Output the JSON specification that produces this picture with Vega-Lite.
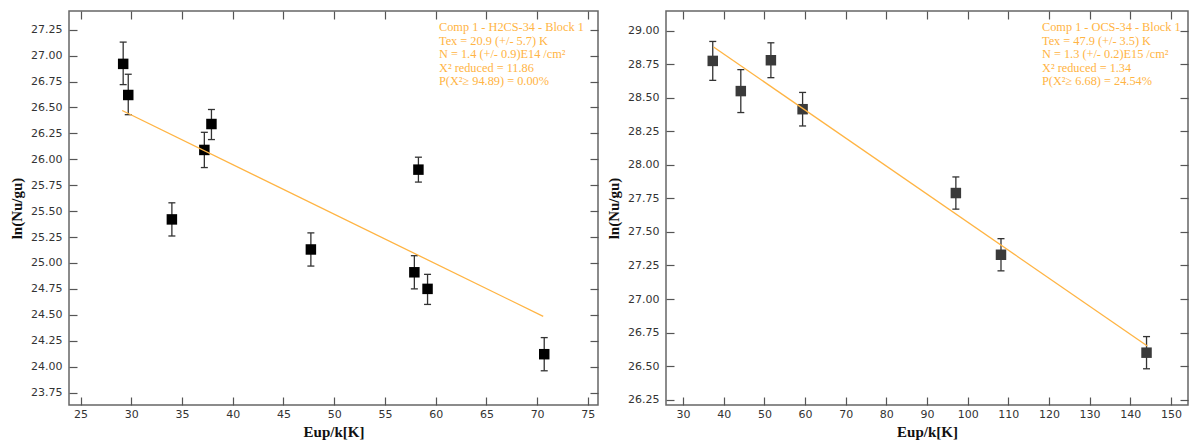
{
  "$schema": "https://vega.github.io/schema/vega-lite/v6.json",
  "background": "white",
  "padding": {"left": 8, "top": 9, "right": 0, "bottom": 0},
  "spacing": 5,
  "config": {
    "view": {"stroke": "#666", "strokeWidth": 1.5},
    "axis": {
      "labelFont": "DejaVu Sans", "labelFontSize": 11, "labelColor": "#333",
      "tickColor": "#555", "tickSize": -8, "tickWidth": 1.2, "domain": false, "grid": false,
      "titleFont": "Liberation Serif", "titleFontSize": 15, "titleFontWeight": "bold", "titleColor": "#111"
    },
    "axisX": {"labelPadding": 11},
    "axisY": {"labelPadding": 15}
  },
  "datasets": {
    "h2cs": [
      {"Eup": 29.2, "ln": 26.92, "lo": 26.72, "hi": 27.13},
      {"Eup": 29.7, "ln": 26.62, "lo": 26.43, "hi": 26.82},
      {"Eup": 34.0, "ln": 25.42, "lo": 25.26, "hi": 25.58},
      {"Eup": 37.2, "ln": 26.09, "lo": 25.92, "hi": 26.26},
      {"Eup": 37.9, "ln": 26.34, "lo": 26.19, "hi": 26.48},
      {"Eup": 47.7, "ln": 25.13, "lo": 24.97, "hi": 25.29},
      {"Eup": 57.9, "ln": 24.91, "lo": 24.75, "hi": 25.07},
      {"Eup": 58.3, "ln": 25.90, "lo": 25.78, "hi": 26.02},
      {"Eup": 59.2, "ln": 24.75, "lo": 24.60, "hi": 24.89},
      {"Eup": 70.7, "ln": 24.12, "lo": 23.96, "hi": 24.28}
    ],
    "fit_h2cs": [
      {"Eup": 29.1, "ln": 26.47},
      {"Eup": 70.6, "ln": 24.485}
    ],
    "ocs": [
      {"Eup": 37.3, "ln": 28.775, "lo": 28.63, "hi": 28.92},
      {"Eup": 44.2, "ln": 28.55, "lo": 28.39, "hi": 28.71},
      {"Eup": 51.6, "ln": 28.78, "lo": 28.65, "hi": 28.91},
      {"Eup": 59.4, "ln": 28.415, "lo": 28.29, "hi": 28.54},
      {"Eup": 97.1, "ln": 27.79, "lo": 27.67, "hi": 27.91},
      {"Eup": 108.2, "ln": 27.33, "lo": 27.21, "hi": 27.45},
      {"Eup": 144.0, "ln": 26.60, "lo": 26.48, "hi": 26.72}
    ],
    "fit_ocs": [
      {"Eup": 37.5, "ln": 28.879},
      {"Eup": 144.2, "ln": 26.65}
    ]
  },
  "hconcat": [
    {
      "width": 529, "height": 394,
      "title": {
        "text": ["Comp 1 - H2CS-34 - Block 1", "Tex =  20.9 (+/- 5.7) K", "N = 1.4 (+/- 0.9)E14 /cm²", "X² reduced = 11.86", "P(X²≥ 94.89) = 0.00%"],
        "frame": "group", "anchor": "start", "align": "left", "dx": 370, "offset": -77,
        "font": "Liberation Serif", "fontSize": 12.3, "fontWeight": "normal", "color": "#FFB443", "lineHeight": 13.5
      },
      "layer": [
        {
          "data": {"name": "h2cs"},
          "mark": {"type": "rule", "color": "#333", "strokeWidth": 1.3},
          "encoding": {
            "x": {"field": "Eup", "type": "quantitative", "scale": {"domain": [23.86, 76.0], "nice": false, "zero": false},
                  "axis": {"orient": "bottom", "values": [25, 30, 35, 40, 45, 50, 55, 60, 65, 70, 75], "format": "d", "title": "Eup/k[K]", "titlePadding": 5}},
            "y": {"field": "lo", "type": "quantitative", "scale": {"domain": [23.63, 27.43], "nice": false, "zero": false},
                  "axis": {"orient": "left", "values": [23.75, 24, 24.25, 24.5, 24.75, 25, 25.25, 25.5, 25.75, 26, 26.25, 26.5, 26.75, 27, 27.25], "format": ".2f", "title": "ln(Nu/gu)", "titlePadding": 6}},
            "y2": {"field": "hi"}
          }
        },
        {
          "data": {"name": "h2cs"},
          "mark": {"type": "tick", "orient": "horizontal", "size": 7, "thickness": 1.3, "color": "#333", "opacity": 1},
          "encoding": {
            "x": {"field": "Eup", "type": "quantitative", "axis": null},
            "y": {"field": "lo", "type": "quantitative", "axis": null}
          }
        },
        {
          "data": {"name": "h2cs"},
          "mark": {"type": "tick", "orient": "horizontal", "size": 7, "thickness": 1.3, "color": "#333", "opacity": 1},
          "encoding": {
            "x": {"field": "Eup", "type": "quantitative", "axis": null},
            "y": {"field": "hi", "type": "quantitative", "axis": null}
          }
        },
        {
          "data": {"name": "h2cs"},
          "mark": {"type": "square", "filled": true, "size": 110, "color": "#000", "opacity": 1},
          "encoding": {
            "x": {"field": "Eup", "type": "quantitative", "axis": null},
            "y": {"field": "ln", "type": "quantitative", "axis": null}
          }
        },
        {
          "data": {"name": "fit_h2cs"},
          "mark": {"type": "line", "color": "#FFB443", "strokeWidth": 1.3},
          "encoding": {
            "x": {"field": "Eup", "type": "quantitative",
                  "axis": {"orient": "top", "values": [25, 30, 35, 40, 45, 50, 55, 60, 65, 70, 75], "labels": false, "title": null}},
            "y": {"field": "ln", "type": "quantitative",
                  "axis": {"orient": "right", "values": [23.75, 24, 24.25, 24.5, 24.75, 25, 25.25, 25.5, 25.75, 26, 26.25, 26.5, 26.75, 27, 27.25], "labels": false, "title": null}}
          }
        }
      ],
      "resolve": {"axis": {"x": "independent", "y": "independent"}}
    },
    {
      "width": 522, "height": 394,
      "title": {
        "text": ["Comp 1 - OCS-34 - Block 1", "Tex =  47.9 (+/- 3.5) K", "N = 1.3 (+/- 0.2)E15 /cm²", "X² reduced = 1.34", "P(X²≥ 6.68) = 24.54%"],
        "frame": "group", "anchor": "start", "align": "left", "dx": 376, "offset": -77,
        "font": "Liberation Serif", "fontSize": 12.3, "fontWeight": "normal", "color": "#FFB443", "lineHeight": 13.5
      },
      "layer": [
        {
          "data": {"name": "ocs"},
          "mark": {"type": "rule", "color": "#333", "strokeWidth": 1.3},
          "encoding": {
            "x": {"field": "Eup", "type": "quantitative", "scale": {"domain": [25.8, 154.2], "nice": false, "zero": false},
                  "axis": {"orient": "bottom", "values": [30, 40, 50, 60, 70, 80, 90, 100, 110, 120, 130, 140, 150], "format": "d", "title": "Eup/k[K]", "titlePadding": 5}},
            "y": {"field": "lo", "type": "quantitative", "scale": {"domain": [26.21, 29.147], "nice": false, "zero": false},
                  "axis": {"orient": "left", "values": [26.25, 26.5, 26.75, 27, 27.25, 27.5, 27.75, 28, 28.25, 28.5, 28.75, 29], "format": ".2f", "title": "ln(Nu/gu)", "titlePadding": 6}},
            "y2": {"field": "hi"}
          }
        },
        {
          "data": {"name": "ocs"},
          "mark": {"type": "tick", "orient": "horizontal", "size": 7, "thickness": 1.3, "color": "#333", "opacity": 1},
          "encoding": {
            "x": {"field": "Eup", "type": "quantitative", "axis": null},
            "y": {"field": "lo", "type": "quantitative", "axis": null}
          }
        },
        {
          "data": {"name": "ocs"},
          "mark": {"type": "tick", "orient": "horizontal", "size": 7, "thickness": 1.3, "color": "#333", "opacity": 1},
          "encoding": {
            "x": {"field": "Eup", "type": "quantitative", "axis": null},
            "y": {"field": "hi", "type": "quantitative", "axis": null}
          }
        },
        {
          "data": {"name": "ocs"},
          "mark": {"type": "square", "filled": true, "size": 110, "color": "#3a3a3a", "opacity": 1},
          "encoding": {
            "x": {"field": "Eup", "type": "quantitative", "axis": null},
            "y": {"field": "ln", "type": "quantitative", "axis": null}
          }
        },
        {
          "data": {"name": "fit_ocs"},
          "mark": {"type": "line", "color": "#FFB443", "strokeWidth": 1.3},
          "encoding": {
            "x": {"field": "Eup", "type": "quantitative",
                  "axis": {"orient": "top", "values": [30, 40, 50, 60, 70, 80, 90, 100, 110, 120, 130, 140, 150], "labels": false, "title": null}},
            "y": {"field": "ln", "type": "quantitative",
                  "axis": {"orient": "right", "values": [26.25, 26.5, 26.75, 27, 27.25, 27.5, 27.75, 28, 28.25, 28.5, 28.75, 29], "labels": false, "title": null}}
          }
        }
      ],
      "resolve": {"axis": {"x": "independent", "y": "independent"}}
    }
  ]
}
